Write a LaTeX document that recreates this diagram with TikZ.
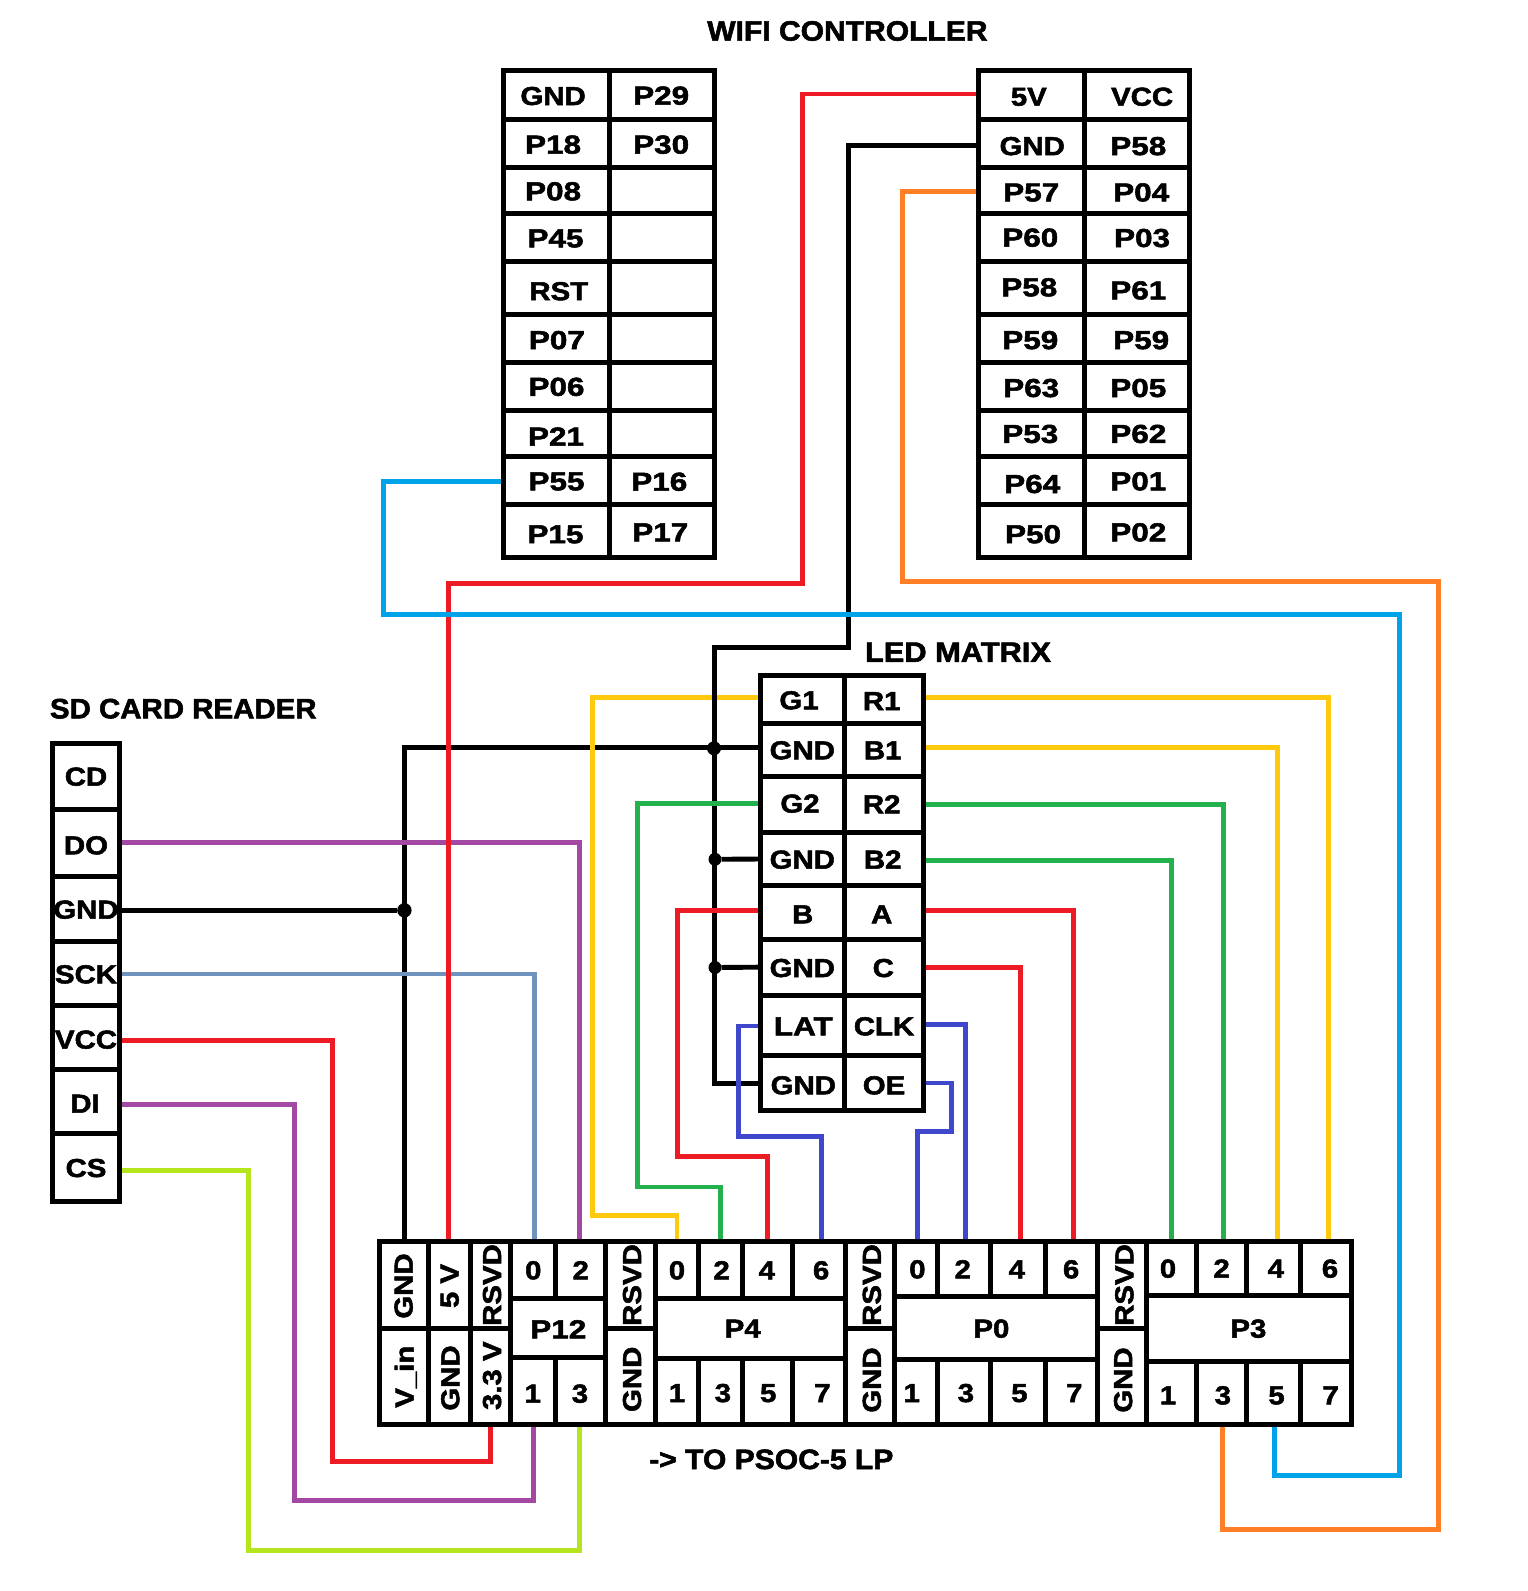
\documentclass[tikz,border=0pt]{standalone}
\usepackage{fontspec}
\usetikzlibrary{fit}
\newfontfamily\lf{Liberation Sans}[BoldFeatures={FakeStretch=1.13,FakeBold=2}]
\newfontfamily\tf{Liberation Sans}[BoldFeatures={FakeStretch=1.1,FakeBold=2}]
\definecolor{cRed}{HTML}{ED1C24}
\definecolor{cSteel}{HTML}{7092BE}
\definecolor{cPurple}{HTML}{A349A4}
\definecolor{cYellow}{HTML}{FFC90E}
\definecolor{cGreen}{HTML}{22B14C}
\definecolor{cIndigo}{HTML}{3F48CC}
\definecolor{cCyan}{HTML}{00A2E8}
\definecolor{cOrange}{HTML}{FF7F27}
\definecolor{cLime}{HTML}{B5E61D}
\pgfdeclarelayer{bg}
\pgfdeclarelayer{wires}
\pgfsetlayers{bg,wires,main}
\tikzset{
  cellbox/.style={draw=black,line width=2.5pt,inner sep=0pt,outer sep=0pt,rectangle},
  wire/.style={line width=2.45pt},
  lab/.style={inner sep=0pt,outer sep=0pt,text=black,text height=9.3pt,text depth=0pt,font=\lf\bfseries\fontsize{13}{13}\selectfont},
  ttl/.style={inner sep=0pt,outer sep=0pt,text=black,text height=10pt,text depth=0pt,font=\tf\bfseries\fontsize{14}{14}\selectfont,transform shape},
  joint/.style={circle,fill=black,draw=none,inner sep=0pt,outer sep=0pt},
}
\newcount\labn
\newcommand{\cell}[5]{\node[cellbox,fit={(#2,#3) (#4,#5)}] (#1) {};}
\newcommand{\lb}[3]{\global\advance\labn by 1 \node[lab] (t\the\labn) at (#1,#2) {#3};}
\newcommand{\pb}[3]{\global\advance\labn by 1 \node[lab,xscale=1.07,transform shape] (t\the\labn) at (#1,#2) {#3};}
\newcommand{\vlb}[3]{\global\advance\labn by 1 \node[lab,rotate=90] (t\the\labn) at (#1,#2) {#3};}
\begin{document}
\begin{tikzpicture}[x=0.5pt,y=-0.5pt]
\useasboundingbox (0,0) rectangle (1527,1591);
\begin{pgfonlayer}{bg}
\fill[white] (0,0) rectangle (1527,1591);
\end{pgfonlayer}

% titles
\node[ttl,xscale=0.975] (ttlwifi) at (847.4,30.6) {WIFI CONTROLLER};
\node[ttl] (ttlled) at (958,651.8) {LED MATRIX};
\node[ttl,xscale=0.956] (ttlsd) at (183.3,708.3) {SD CARD READER};
\node[ttl,xscale=0.976] (ttlpsoc) at (771.3,1459) {-> TO PSOC-5 LP};

% wifi controller cells
\foreach \i/\t/\b in {1/70.8/119.8,2/119.8/167.2,3/167.2/213.2,4/213.2/261.4,5/261.4/314.2,6/314.2/362.4,7/362.4/410.3,8/410.3/456.6,9/456.6/504.4,10/504.4/557}{
  \cell{wl\i a}{503}{\t}{609.3}{\b}
  \cell{wl\i b}{609.3}{\t}{714.5}{\b}
  \cell{wr\i a}{978.3}{\t}{1084.5}{\b}
  \cell{wr\i b}{1084.5}{\t}{1189.8}{\b}
}
\lb{553.1}{95.7}{GND}\pb{661.2}{95.3}{P29}
\pb{553.1}{144.3}{P18}\pb{661.2}{144.3}{P30}
\pb{553.1}{191}{P08}
\pb{555.5}{238}{P45}
\lb{558.8}{290.9}{RST}
\pb{556.9}{339.8}{P07}
\pb{556.5}{386.5}{P06}
\pb{556}{436.3}{P21}
\pb{556.5}{481}{P55}\pb{659.3}{481.4}{P16}
\pb{555.5}{533.9}{P15}\pb{660.3}{532}{P17}
\lb{1028.8}{96.4}{5V}\lb{1142.1}{96.4}{VCC}
\lb{1032.2}{145.8}{GND}\pb{1138.3}{145.8}{P58}
\pb{1031.2}{192.1}{P57}\pb{1141.2}{192.1}{P04}
\pb{1030.3}{237.3}{P60}\pb{1142.1}{237.7}{P03}
\pb{1029.3}{287}{P58}\pb{1138.3}{290.1}{P61}
\pb{1030.3}{339.8}{P59}\pb{1141.2}{339.8}{P59}
\pb{1031.2}{387.7}{P63}\pb{1138.3}{387.7}{P05}
\pb{1030.3}{433.6}{P53}\pb{1138.3}{433.6}{P62}
\pb{1032.2}{483.7}{P64}\pb{1138.3}{481}{P01}
\pb{1033.1}{533.9}{P50}\pb{1138.3}{532}{P02}

% LED matrix cells
\foreach \i/\t/\b in {1/675.3/723.3,2/723.3/776.7,3/776.7/832.7,4/832.7/885.3,5/885.3/939.3,6/939.3/995,7/995/1055.7,8/1055.7/1110.3}{
  \cell{l\i a}{760.7}{\t}{844.3}{\b}
  \cell{l\i b}{844.3}{\t}{923.3}{\b}
}
\lb{799}{700}{G1}\lb{881.7}{700.7}{R1}
\lb{802.3}{750}{GND}\lb{882.7}{750}{B1}
\lb{800}{803.3}{G2}\lb{881.7}{804}{R2}
\lb{802.3}{859.3}{GND}\lb{882.7}{859.3}{B2}
\lb{802.7}{914}{B}\lb{881.7}{914}{A}
\lb{802.3}{967.7}{GND}\lb{883.3}{967.7}{C}
\pb{803.3}{1026}{LAT}\lb{884}{1026}{CLK}
\lb{803.3}{1085}{GND}\lb{884}{1085}{OE}

% SD card reader cells
\foreach \n/\t/\b in {cd/743.3/809.3,do/809.3/876,gnd/876/941.3,sck/941.3/1005.3,vcc/1005.3/1069.3,di/1069.3/1133.3,cs/1133.3/1201}{
  \cell{sd\n}{52.3}{\t}{119.3}{\b}
}
\lb{86}{776.3}{CD}\lb{86}{845}{DO}\lb{86}{909.3}{GND}\lb{86}{974}{SCK}\lb{86}{1039.3}{VCC}\lb{85}{1103.3}{DI}\lb{86}{1167.7}{CS}

% PSoC header: left power block
\cell{bgnd}{379.3}{1241.5}{428.7}{1328.3}
\cell{bvin}{379.3}{1328.3}{428.7}{1424}
\cell{bfive}{428.7}{1241.5}{470.7}{1328.3}
\cell{bgndb}{428.7}{1328.3}{470.7}{1424}
\cell{brsvd}{470.7}{1241.5}{510.3}{1328.3}
\cell{bthree}{470.7}{1328.3}{510.3}{1424}
\vlb{403.3}{1286}{GND}\vlb{449.3}{1286}{5 V}\vlb{491.7}{1285}{RSVD}
\vlb{404.3}{1376.7}{V\_in}\vlb{450}{1378}{GND}\vlb{491.7}{1375.7}{3.3 V}
% P12
\cell{ptwelve0}{510.3}{1241.5}{555.3}{1298.3}
\cell{ptwelve2}{555.3}{1241.5}{605.3}{1298.3}
\cell{ptwelve}{510.3}{1298.3}{605.3}{1357.3}
\cell{ptwelve1}{510.3}{1357.3}{555.3}{1424}
\cell{ptwelve3}{555.3}{1357.3}{605.3}{1424}
\lb{533.3}{1270}{0}\lb{580.7}{1270}{2}\pb{558.3}{1329}{P12}\lb{532.7}{1393.3}{1}\lb{580}{1393.3}{3}
\cell{rsvda}{605.3}{1241.5}{655.3}{1328.3}
\cell{gnda}{605.3}{1328.3}{655.3}{1424}
\vlb{631.7}{1285}{RSVD}\vlb{631.7}{1379.3}{GND}
% P4
\foreach \n/\l/\r in {0/655.3/698.6,2/698.6/742.6,4/742.6/792.4,6/792.4/845.3}{\cell{pfour\n}{\l}{1241.5}{\r}{1298.3}}
\foreach \n/\l/\r in {1/655.3/698.6,3/698.6/742.6,5/742.6/792.4,7/792.4/845.3}{\cell{pfour\n}{\l}{1358.3}{\r}{1424}}
\cell{pfour}{655.3}{1298.3}{845.3}{1358.3}
\lb{677}{1270}{0}\lb{721.6}{1270}{2}\lb{766.9}{1270}{4}\lb{821.1}{1270}{6}
\lb{742.7}{1328.3}{P4}
\lb{677}{1392.7}{1}\lb{722.9}{1392.7}{3}\lb{768.2}{1392.7}{5}\lb{822.4}{1392.7}{7}
\cell{rsvdb}{845.3}{1241.5}{894.4}{1328.3}
\cell{gndb}{845.3}{1328.3}{894.4}{1424}
\vlb{871.5}{1285}{RSVD}\vlb{871.5}{1380}{GND}
% P0
\foreach \n/\l/\r in {0/894.4/937.8,2/937.8/990,4/990/1045.6,6/1045.6/1097.2}{\cell{pzero\n}{\l}{1241.5}{\r}{1296.7}}
\foreach \n/\l/\r in {1/894.4/937.8,3/937.8/990,5/990/1045.6,7/1045.6/1097.2}{\cell{pzero\n}{\l}{1359.3}{\r}{1424}}
\cell{pzero}{894.4}{1296.7}{1097.2}{1359.3}
\lb{917.4}{1269}{0}\lb{962.7}{1269}{2}\lb{1016.9}{1269}{4}\lb{1071.1}{1269}{6}
\lb{991.4}{1328.3}{P0}
\lb{911.7}{1392.7}{1}\lb{965.9}{1392.7}{3}\lb{1019.4}{1392.7}{5}\lb{1074.3}{1392.7}{7}
\cell{rsvdc}{1097.2}{1241.5}{1146.3}{1328.3}
\cell{gndc}{1097.2}{1328.3}{1146.3}{1424}
\vlb{1124}{1285}{RSVD}\vlb{1122.8}{1380}{GND}
% P3
\foreach \n/\l/\r in {0/1146.3/1196.7,2/1196.7/1246.5,4/1246.5/1300.7,6/1300.7/1351}{\cell{pthree\n}{\l}{1241.5}{\r}{1295.3}}
\foreach \n/\l/\r in {1/1146.3/1196.7,3/1196.7/1246.5,5/1246.5/1300.7,7/1300.7/1351}{\cell{pthree\n}{\l}{1361.3}{\r}{1424}}
\cell{pthree}{1146.3}{1295.3}{1351}{1361.3}
\lb{1168}{1268.3}{0}\lb{1221.6}{1268.3}{2}\lb{1275.8}{1268.3}{4}\lb{1330}{1268.3}{6}
\lb{1248.4}{1328.3}{P3}
\lb{1168}{1395}{1}\lb{1222.9}{1395}{3}\lb{1276.5}{1395}{5}\lb{1330.6}{1395}{7}

% junction dots
\node[joint,minimum size=7.2pt] (dzero) at (404.4,910.3) {};
\node[joint,minimum size=7pt] (done) at (714,748.3) {};
\node[joint,minimum size=6.5pt] (dtwo) at (715,859.3) {};
\node[joint,minimum size=6.5pt] (dthree) at (715,967.5) {};

\begin{pgfonlayer}{wires}
% bottom of the stack: GND bus to the PSoC, then G1, then the wifi GND trunk
\draw[wire,black] (l2a.west |- 0,747.3) -| (bgnd.north -| 404.4,0);
\draw[wire,cYellow] (l1a.west |- 0,697.3) -| (592.3,1215.3) -| (pfour0.north);
\draw[wire,black] (wr2a.west |- 0,145.4) -| (848.5,647.3) -| (714.3,1083.3) -- (l8a.west |- 0,1083.3);
\draw[wire,black] (l4a.west) -- (dtwo);
\draw[wire,black] (l6a.west) -- (dthree);
\draw[wire,black] (sdgnd.east |- 0,910.3) -- (dzero);
% LED matrix to PSoC
\draw[wire,cYellow] (l1b.east |- 0,697.3) -| (pthree6.north -| 1328.8,0);
\draw[wire,cYellow] (l2b.east |- 0,747.3) -| (pthree4.north -| 1277.7,0);
\draw[wire,cGreen] (l3a.west |- 0,803.3) -| (637.7,1187) -| (pfour2.north);
\draw[wire,cGreen] (l3b.east |- 0,804.3) -| (pthree2.north -| 1223.5,0);
\draw[wire,cGreen] (l4b.east |- 0,860.3) -| (pthree0.north);
\draw[wire,cRed] (l5a.west |- 0,910.3) -| (677.3,1156.5) -| (pfour4.north);
\draw[wire,cRed] (l5b.east |- 0,910.3) -| (pzero6.north -| 1073.7,0);
\draw[wire,cRed] (l6b.east) -| (pzero4.north -| 1020.7,0);
\draw[wire,cIndigo] (l7a.west |- 0,1026) -| (738.3,1136.7) -| (pfour6.north -| 821.3,0);
\draw[wire,cIndigo] (l7b.east |- 0,1024.3) -| (pzero2.north -| 965.4,0);
\draw[wire,cIndigo] (l8b.east) -| (951.7,1131.7) -| (pzero0.north -| 917.3,0);
% SD reader
\draw[wire,cPurple] (sddo.east |- 0,842.3) -| (ptwelve2.north -| 579.4,0);
\draw[wire,cSteel] (sdsck.east |- 0,974) -| (ptwelve0.north -| 534.7,0);
\draw[wire,cRed] (sdvcc.east |- 0,1040.3) -| (332.7,1461.7) -| (bthree.south -| 490.7,0);
\draw[wire,cPurple] (sddi.east |- 0,1104.3) -| (294.3,1500.7) -| (ptwelve1.south -| 533.5,0);
\draw[wire,cLime] (sdcs.east |- 0,1170.3) -| (248.3,1550.3) -| (ptwelve3.south -| 579.4,0);
% wifi to PSoC
\draw[wire,cRed] (wr1a.west |- 0,94) -| (802.5,583.3) -| (bfive.north -| 448.3,0);
\draw[wire,cOrange] (wr3a.west |- 0,191.4) -| (902.3,581.3) -| (1438.8,1529.3) -| (pthree3.south -| 1222.2,0);
\draw[wire,cCyan] (wl9a.west |- 0,481.4) -| (383.4,614.3) -| (1399.3,1475.3) -| (pthree5.south -| 1274.5,0);
\end{pgfonlayer}
\end{tikzpicture}
\end{document}
